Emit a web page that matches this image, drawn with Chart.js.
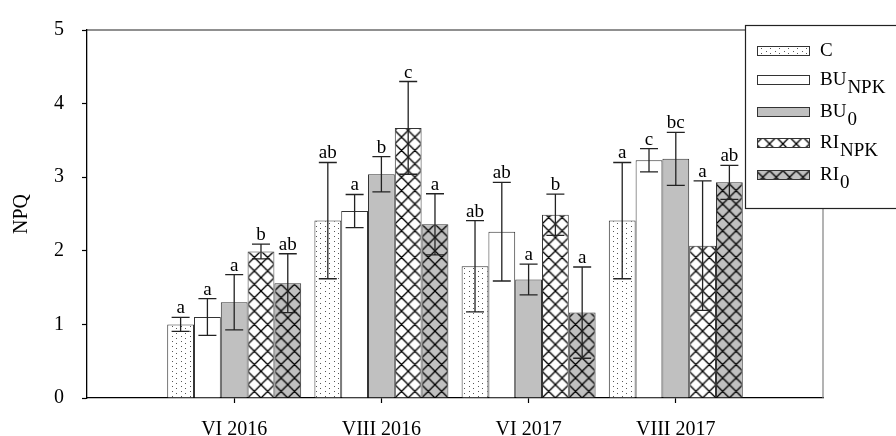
<!DOCTYPE html>
<html>
<head>
<meta charset="utf-8">
<script src="https://cdn.jsdelivr.net/npm/chart.js@4/dist/chart.umd.min.js"></script>
<style>
  html, body { margin: 0; padding: 0; background: #fff; }
</style>
</head>
<body>
<canvas id="npq" width="896" height="436"></canvas>
<script>
const categories = ['VI 2016', 'VIII 2016', 'VI 2017', 'VIII 2017'];
const yTicks = [0, 1, 2, 3, 4, 5];

// means, standard errors and significance letters per treatment
const C_mean = [1.00, 2.41, 1.79, 2.41];
const C_err = [0.095, 0.79, 0.62, 0.79];
const C_sig = ['a', 'ab', 'ab', 'a'];

const BUNPK_mean = [1.10, 2.54, 2.26, 3.23];
const BUNPK_err = [0.25, 0.225, 0.67, 0.157];
const BUNPK_sig = ['a', 'a', 'ab', 'c'];

const BU0_mean = [1.30, 3.04, 1.61, 3.25];
const BU0_err = [0.375, 0.24, 0.21, 0.36];
const BU0_sig = ['a', 'b', 'a', 'bc'];

const RINPK_mean = [1.99, 3.67, 2.49, 2.07];
const RINPK_err = [0.10, 0.63, 0.28, 0.88];
const RINPK_sig = ['b', 'c', 'b', 'a'];

const RI0_mean = [1.56, 2.36, 1.16, 2.93];
const RI0_err = [0.40, 0.415, 0.62, 0.23];
const RI0_sig = ['ab', 'a', 'a', 'ab'];

const legendMain = ['C', 'BU', 'BU', 'RI', 'RI'];
const legendSub = ['', 'NPK', '0', 'NPK', '0'];

const SERIF = '"Liberation Serif", "Times New Roman", serif';
const canvas = document.getElementById('npq');
const ctx = canvas.getContext('2d');

// fill patterns
function tile(w, h, draw) {
  const c = document.createElement('canvas');
  c.width = w; c.height = h;
  draw(c.getContext('2d'), w, h);
  return ctx.createPattern(c, 'repeat');
}
const dots = tile(9, 5, (g, w, h) => {
  g.fillStyle = '#fff'; g.fillRect(0, 0, w, h);
  g.fillStyle = '#555';
  g.fillRect(1, 1, 1, 1);
  g.fillRect(5, 3, 1, 1);
});
function hatchTile(bg) {
  return tile(13, 13, (g, w, h) => {
    g.fillStyle = bg; g.fillRect(0, 0, w, h);
    g.strokeStyle = '#000'; g.lineWidth = 1.3;
    g.beginPath();
    for (const c of [-13, 0, 13]) {
      g.moveTo(c - 3, -3); g.lineTo(c + 16, 16);
    }
    for (const c of [0, 13, 26]) {
      g.moveTo(c + 3, -3); g.lineTo(c - 16, 16);
    }
    g.stroke();
  });
}
const hatchWhite = hatchTile('#fff');
const hatchGrey = hatchTile('#c0c0c0');

const series = [
  { label: 'C', values: C_mean, err: C_err, sig: C_sig, fill: dots },
  { label: 'BU NPK', values: BUNPK_mean, err: BUNPK_err, sig: BUNPK_sig, fill: '#fff' },
  { label: 'BU 0', values: BU0_mean, err: BU0_err, sig: BU0_sig, fill: '#c0c0c0' },
  { label: 'RI NPK', values: RINPK_mean, err: RINPK_err, sig: RINPK_sig, fill: hatchWhite },
  { label: 'RI 0', values: RI0_mean, err: RI0_err, sig: RI0_sig, fill: hatchGrey }
];

// keep the cross-hatch lined up with the bars
const hatchAlign = {
  id: 'hatchAlign',
  beforeDatasetsDraw(chart) {
    const bars = chart.getDatasetMeta(3).data;
    const x0 = bars[1].x - bars[1].width / 2;
    const period = (bars[2].x - bars[1].x) / 11;
    const m = new DOMMatrix().translate(x0, chart.chartArea.bottom).scale(period / 13);
    hatchWhite.setTransform(m);
    hatchGrey.setTransform(m);
  }
};

const errorBars = {
  id: 'errorBars',
  afterDatasetsDraw(chart) {
    const y = chart.scales.y;
    const g = chart.ctx;
    g.save();
    g.strokeStyle = '#222';
    g.lineWidth = 1.3;
    g.fillStyle = '#000';
    g.font = '19px ' + SERIF;
    g.textAlign = 'center';
    g.textBaseline = 'alphabetic';
    series.forEach((s, i) => {
      const meta = chart.getDatasetMeta(i);
      s.values.forEach((v, j) => {
        const bar = meta.data[j + 1];
        const x = bar.x;
        const top = y.getPixelForValue(v + s.err[j]);
        const bot = y.getPixelForValue(v - s.err[j]);
        g.beginPath();
        g.moveTo(x, top); g.lineTo(x, bot);
        g.moveTo(x - 9, top); g.lineTo(x + 9, top);
        g.moveTo(x - 9, bot); g.lineTo(x + 9, bot);
        g.stroke();
        g.fillText(s.sig[j], x, top - 4);
      });
    });
    g.restore();
  }
};

const frameAndLegend = {
  id: 'frameAndLegend',
  afterDraw(chart) {
    const { left, right, top, bottom } = chart.chartArea;
    const g = chart.ctx;
    g.save();
    g.lineWidth = 1.2;
    g.strokeStyle = '#222';
    g.beginPath(); g.moveTo(left, top); g.lineTo(right, top); g.stroke();
    g.strokeStyle = '#808080';
    g.beginPath(); g.moveTo(right, top); g.lineTo(right, bottom); g.stroke();

    // legend box
    g.fillStyle = '#fff';
    g.fillRect(745, 25, 160, 183);
    g.strokeStyle = '#222';
    g.lineWidth = 1.2;
    g.strokeRect(745.5, 25.5, 160, 183);

    const rows = [51, 80, 112, 143, 175];
    g.font = '19px ' + SERIF;
    g.textBaseline = 'alphabetic';
    g.textAlign = 'left';
    series.forEach((s, i) => {
      const cy = rows[i];
      g.fillStyle = s.fill;
      g.fillRect(757, cy - 4.5, 52, 9);
      g.strokeStyle = '#333';
      g.lineWidth = 1;
      g.strokeRect(757.5, cy - 4.5, 52, 9);
      g.fillStyle = '#000';
      g.fillText(legendMain[i], 820, cy + 5);
      if (legendSub[i]) {
        const w = g.measureText(legendMain[i]).width;
        g.fillText(legendSub[i], 820 + w + 1, cy + 13);
      }
    });
    g.restore();
  }
};

const axisFont = { family: SERIF, size: 20 };

new Chart(ctx, {
  type: 'bar',
  data: {
    labels: ['', ...categories, ''],
    datasets: series.map(s => ({
      label: s.label,
      data: [null, ...s.values, null],
      backgroundColor: s.fill,
      borderColor: '#333',
      borderWidth: 1,
      categoryPercentage: 0.91,
      barPercentage: 1
    }))
  },
  options: {
    responsive: false,
    animation: false,
    devicePixelRatio: 1,
    layout: { padding: { top: 26, right: 73, left: 0, bottom: 0 } },
    plugins: { legend: { display: false }, tooltip: { enabled: false } },
    scales: {
      x: {
        type: 'category',
        offset: false,
        grid: {
          offset: false,
          drawOnChartArea: false,
          tickLength: 5,
          tickWidth: 1.2,
          tickColor: c => (c.index === 0 || c.index === categories.length + 1) ? 'rgba(0,0,0,0)' : '#000'
        },
        border: { color: '#000', width: 1.3 },
        ticks: { font: axisFont, color: '#000', padding: 15, autoSkip: false, maxRotation: 0 },
        afterFit: s => { s.height = 38; }
      },
      y: {
        min: yTicks[0],
        max: yTicks[yTicks.length - 1],
        afterBuildTicks: s => { s.ticks = yTicks.map(v => ({ value: v })); },
        grid: { drawOnChartArea: false, tickLength: 5, tickWidth: 1.2, tickColor: '#000' },
        border: { color: '#000', width: 1.3 },
        ticks: { font: axisFont, color: '#000', padding: 18 },
        title: { display: true, text: 'NPQ', font: axisFont, color: '#000', padding: { top: 10, bottom: 0 } },
        afterFit: s => { s.width = 87; }
      }
    }
  },
  plugins: [hatchAlign, errorBars, frameAndLegend]
});
</script>
</body>
</html>
